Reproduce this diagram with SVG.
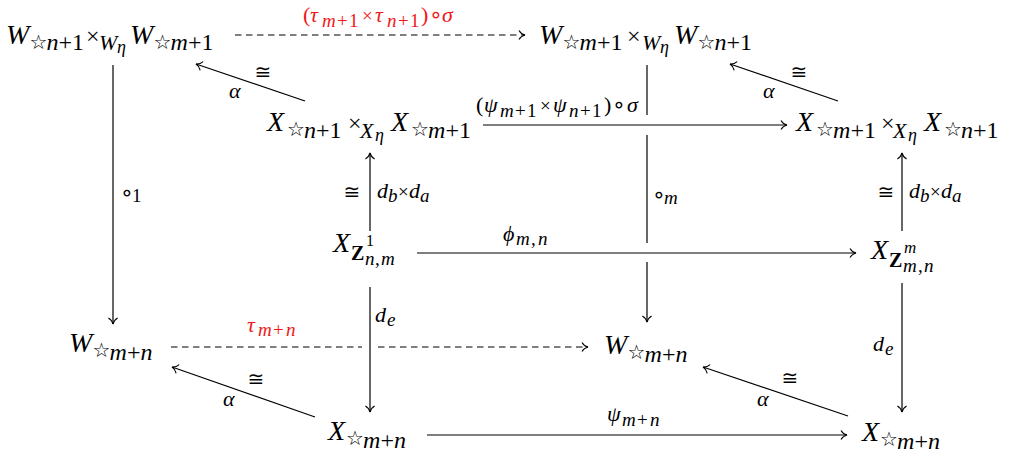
<svg xmlns="http://www.w3.org/2000/svg" width="1010" height="454" viewBox="0 0 1010 454">
<style>
text { font-family: "Liberation Serif", "DejaVu Serif", serif; fill: #000; }
.L { font-size: 28px; font-style: italic; }
.S { font-size: 24px; }
.Si { font-size: 24px; font-style: italic; }
.T { font-size: 22px; font-style: italic; }
.E { font-size: 18px; font-style: italic; }
.st { font-family: "DejaVu Sans", sans-serif; font-size: 20px; }
.lb { font-size: 22px; }
.lbi { font-size: 22px; font-style: italic; }
.sb { font-size: 19px; }
.sbi { font-size: 19px; font-style: italic; }
.cg { font-family: "DejaVu Sans", sans-serif; font-size: 20px; }
.co { font-family: "DejaVu Sans", sans-serif; font-size: 22px; }
.red { fill: #f01818; }
.ln { stroke: #000; stroke-width: 1.2; fill: none; }
.da { stroke-dasharray: 6.5 4.5; }
.ar { marker-end: url(#ah); }
</style>
<defs>
<marker id="ah" viewBox="-8 -6 9 12" refX="0" refY="0" markerWidth="9" markerHeight="12" markerUnits="userSpaceOnUse" orient="auto">
<path d="M-6,-4.6 C-4.5,-2 -2,-0.5 0,0 C-2,0.5 -4.5,2 -6,4.6" fill="none" stroke="#000" stroke-width="1.1"/>
</marker>
</defs>

<g id="connectors">
<path class="ln da ar" d="M235,35 H525"/>
<path class="ln ar" d="M113,65 V324"/>
<path class="ln" d="M647,65 V115"/>
<path class="ln" d="M647,135 V243"/>
<path class="ln ar" d="M647,262 V322"/>
<path class="ln ar" d="M305,101 L196,64"/>
<path class="ln ar" d="M838,101 L730,64"/>
<path class="ln ar" d="M483,125 H787"/>
<path class="ln ar" d="M370,231 V153"/>
<path class="ln ar" d="M902,231 V153"/>
<path class="ln ar" d="M417,253 H856"/>
<path class="ln ar" d="M370,287 V412"/>
<path class="ln ar" d="M902,283 V412"/>
<path class="ln da" d="M171,347 H362"/>
<path class="ln da ar" d="M378,347 H588"/>
<path class="ln ar" d="M315,417 L172,367"/>
<path class="ln ar" d="M848,416 L703,367"/>
<path class="ln ar" d="M427,435 H847"/>
</g>

<g id="labels">
<text class="red"><tspan class="lb" x="303" y="22">(</tspan><tspan class="lbi" x="310" y="22">τ</tspan><tspan class="sbi" x="322" y="27">m</tspan><tspan class="sb" x="337" y="27">+</tspan><tspan class="sb" x="349" y="27">1</tspan><tspan class="sb" x="362" y="22">×</tspan><tspan class="lbi" x="375" y="22">τ</tspan><tspan class="sbi" x="387" y="27">n</tspan><tspan class="sb" x="398" y="27">+</tspan><tspan class="sb" x="410" y="27">1</tspan><tspan class="lb" x="421" y="22">)</tspan><tspan class="co" x="429" y="22">∘</tspan><tspan class="lbi" x="442" y="22">σ</tspan></text>
<text><tspan class="lb" x="476" y="112">(</tspan><tspan class="lbi" x="484" y="112">ψ</tspan><tspan class="sbi" x="500" y="117">m</tspan><tspan class="sb" x="515" y="117">+</tspan><tspan class="sb" x="527" y="117">1</tspan><tspan class="sb" x="540" y="112">×</tspan><tspan class="lbi" x="553" y="112">ψ</tspan><tspan class="sbi" x="569" y="117">n</tspan><tspan class="sb" x="580" y="117">+</tspan><tspan class="sb" x="592" y="117">1</tspan><tspan class="lb" x="604" y="112">)</tspan><tspan class="co" x="612" y="112">∘</tspan><tspan class="lbi" x="627" y="112">σ</tspan></text>
<text class="cg" x="263" y="79" text-anchor="middle">≅</text>
<text class="lbi" x="229" y="98">α</text>
<text class="cg" x="799" y="79" text-anchor="middle">≅</text>
<text class="lbi" x="763" y="98">α</text>
<text><tspan class="co" x="120" y="200">∘</tspan><tspan class="sb" x="132" y="202">1</tspan></text>
<text><tspan class="co" x="652" y="202">∘</tspan><tspan class="sbi" x="664" y="204">m</tspan></text>
<text class="cg" x="352" y="199" text-anchor="middle">≅</text>
<text><tspan class="lbi" x="377" y="198">d</tspan><tspan class="sbi" x="388" y="202">b</tspan><tspan class="sb" x="398" y="198">×</tspan><tspan class="lbi" x="409" y="198">d</tspan><tspan class="sbi" x="420" y="202">a</tspan></text>
<text class="cg" x="886" y="199" text-anchor="middle">≅</text>
<text><tspan class="lbi" x="909" y="198">d</tspan><tspan class="sbi" x="920" y="202">b</tspan><tspan class="sb" x="930" y="198">×</tspan><tspan class="lbi" x="941" y="198">d</tspan><tspan class="sbi" x="952" y="202">a</tspan></text>
<text><tspan class="lbi" x="503" y="241">ϕ</tspan><tspan class="sbi" x="516" y="245">m</tspan><tspan class="sb" x="531" y="245">,</tspan><tspan class="sbi" x="538" y="245">n</tspan></text>
<text><tspan class="lbi" x="375" y="322">d</tspan><tspan class="sbi" x="387" y="326">e</tspan></text>
<text><tspan class="lbi" x="873" y="351">d</tspan><tspan class="sbi" x="885" y="355">e</tspan></text>
<text class="red"><tspan class="lbi" x="247" y="332">τ</tspan><tspan class="sbi" x="258" y="336">m</tspan><tspan class="sb" x="273" y="336">+</tspan><tspan class="sbi" x="286" y="336">n</tspan></text>
<text class="cg" x="256" y="386" text-anchor="middle">≅</text>
<text class="lbi" x="223" y="406">α</text>
<text class="cg" x="790" y="385" text-anchor="middle">≅</text>
<text class="lbi" x="757" y="406">α</text>
<text><tspan class="lbi" x="607" y="421">ψ</tspan><tspan class="sbi" x="622" y="426">m</tspan><tspan class="sb" x="637" y="426">+</tspan><tspan class="sbi" x="650" y="426">n</tspan></text>
</g>

<g id="node-w-top-left">
<text><tspan class="L" x="6" y="43.5">W</tspan><tspan class="st" x="29.5" y="48.5">☆</tspan><tspan class="Si" x="46.5" y="50">n</tspan><tspan class="S" x="58.5" y="50">+1</tspan><tspan class="S" x="86" y="43.5">×</tspan><tspan class="T" x="99" y="50">W</tspan><tspan class="E" x="117" y="53">η</tspan><tspan class="L" x="130" y="43.5">W</tspan><tspan class="st" x="153.5" y="48.5">☆</tspan><tspan class="Si" x="170.5" y="50">m</tspan><tspan class="S" x="188" y="50">+1</tspan></text>
</g>
<g id="node-w-top-right">
<text><tspan class="L" x="539" y="43.5">W</tspan><tspan class="st" x="562.5" y="48.5">☆</tspan><tspan class="Si" x="579.5" y="50">m</tspan><tspan class="S" x="597" y="50">+1</tspan><tspan class="S" x="627" y="43.5">×</tspan><tspan class="T" x="642" y="50">W</tspan><tspan class="E" x="660" y="53">η</tspan><tspan class="L" x="674" y="43.5">W</tspan><tspan class="st" x="697.5" y="48.5">☆</tspan><tspan class="Si" x="714.5" y="50">n</tspan><tspan class="S" x="726.5" y="50">+1</tspan></text>
</g>
<g id="node-x-mid-left">
<text><tspan class="L" x="267" y="131">X</tspan><tspan class="st" x="287" y="136">☆</tspan><tspan class="Si" x="304" y="138">n</tspan><tspan class="S" x="316" y="138">+1</tspan><tspan class="S" x="348" y="131">×</tspan><tspan class="T" x="360" y="138">X</tspan><tspan class="E" x="375" y="141">η</tspan><tspan class="L" x="391" y="131">X</tspan><tspan class="st" x="411" y="136">☆</tspan><tspan class="Si" x="428" y="138">m</tspan><tspan class="S" x="445.5" y="138">+1</tspan></text>
</g>
<g id="node-x-mid-right">
<text><tspan class="L" x="796" y="131">X</tspan><tspan class="st" x="816" y="136">☆</tspan><tspan class="Si" x="833" y="138">m</tspan><tspan class="S" x="850.5" y="138">+1</tspan><tspan class="S" x="881" y="131">×</tspan><tspan class="T" x="893" y="138">X</tspan><tspan class="E" x="908" y="141">η</tspan><tspan class="L" x="924" y="131">X</tspan><tspan class="st" x="944" y="136">☆</tspan><tspan class="Si" x="961" y="138">n</tspan><tspan class="S" x="973" y="138">+1</tspan></text>
</g>
<g id="node-xz1">
<text><tspan class="L" x="333" y="252">X</tspan><tspan x="351" y="260" style="font-size:20px;font-weight:bold">Z</tspan><tspan x="366" y="246" style="font-size:16px">1</tspan><tspan class="sbi" x="365" y="265">n</tspan><tspan class="sb" x="375" y="265">,</tspan><tspan class="sbi" x="381" y="265">m</tspan></text>
</g>
<g id="node-xzm">
<text><tspan class="L" x="871" y="259">X</tspan><tspan x="889" y="267" style="font-size:20px;font-weight:bold">Z</tspan><tspan x="904" y="253" style="font-size:17px;font-style:italic">m</tspan><tspan class="sbi" x="903" y="272">m</tspan><tspan class="sb" x="918" y="272">,</tspan><tspan class="sbi" x="924" y="272">n</tspan></text>
</g>
<g id="node-w-bottom-left">
<text><tspan class="L" x="69" y="352">W</tspan><tspan class="st" x="92.5" y="357">☆</tspan><tspan class="Si" x="109.5" y="360">m</tspan><tspan class="S" x="127" y="360">+</tspan><tspan class="Si" x="140.5" y="360">n</tspan></text>
</g>
<g id="node-w-bottom-mid">
<text><tspan class="L" x="604" y="354">W</tspan><tspan class="st" x="627.5" y="359">☆</tspan><tspan class="Si" x="644.5" y="362">m</tspan><tspan class="S" x="662" y="362">+</tspan><tspan class="Si" x="675.5" y="362">n</tspan></text>
</g>
<g id="node-x-bottom-left">
<text><tspan class="L" x="328" y="440">X</tspan><tspan class="st" x="346" y="445">☆</tspan><tspan class="Si" x="363" y="448">m</tspan><tspan class="S" x="380.5" y="448">+</tspan><tspan class="Si" x="394" y="448">n</tspan></text>
</g>
<g id="node-x-bottom-right">
<text><tspan class="L" x="862" y="441">X</tspan><tspan class="st" x="880" y="446">☆</tspan><tspan class="Si" x="897" y="449">m</tspan><tspan class="S" x="914.5" y="449">+</tspan><tspan class="Si" x="928" y="449">n</tspan></text>
</g>
</svg>
